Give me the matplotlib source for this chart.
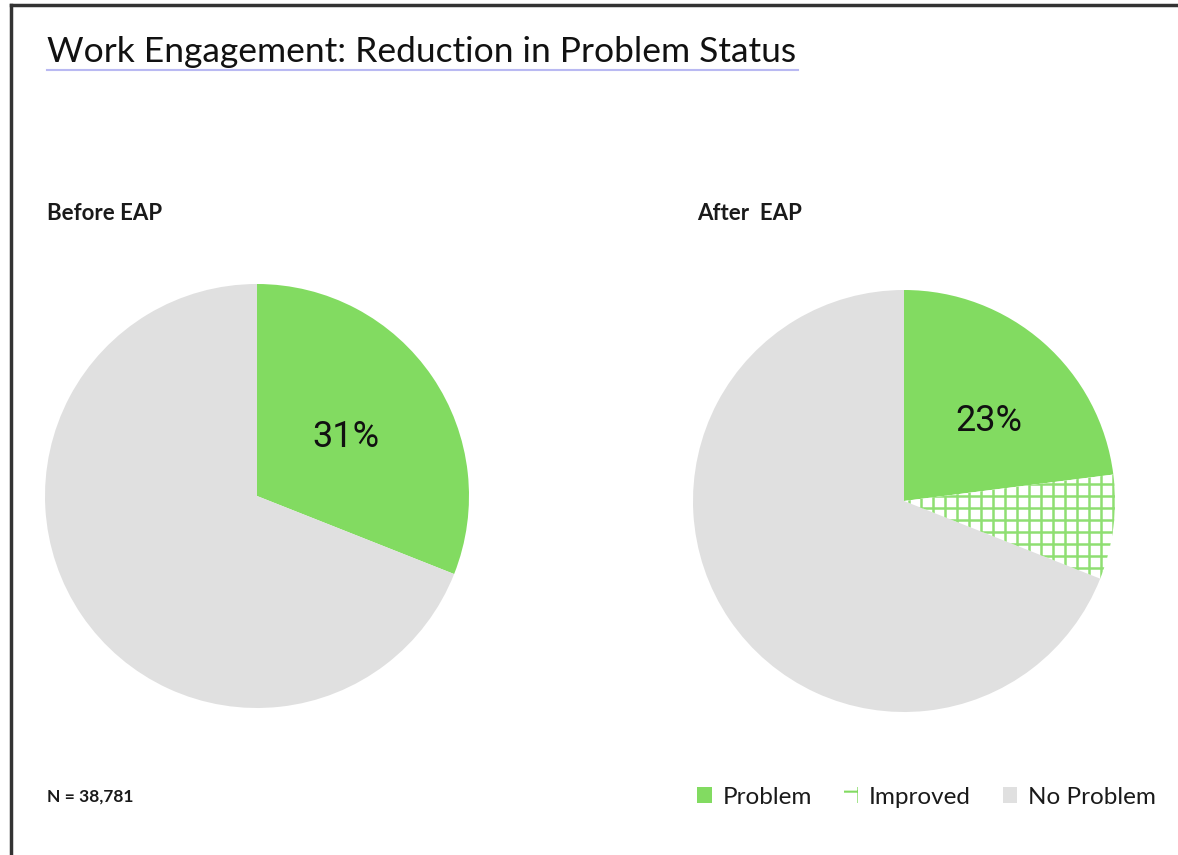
import numpy as np
import matplotlib.pyplot as plt
from matplotlib.patches import Patch
from matplotlib.lines import Line2D

plt.rcParams['font.family'] = ['Lato', 'DejaVu Sans']

title = "Work Engagement: Reduction in Problem Status"
before_labels = ["Problem", "No Problem"]
before_values = [31, 69]
after_labels = ["Problem", "Improved", "No Problem"]
after_values = [23, 8, 69]
sample_note = "N = 38,781"

green = "#82db61"
grey = "#e0e0e0"

W, H = 1178, 855
fig = plt.figure(figsize=(W / 100, H / 100), dpi=100)
fig.patch.set_facecolor("white")


def pie_axes(cx, cy, r):
    # pie centre and radius in pixels
    return fig.add_axes([(cx - r) / W, (H - cy - r) / H, 2 * r / W, 2 * r / H])


# frame (left and top edges only)
fig.add_artist(Line2D([11 / W, 11 / W], [0, 1 - 5 / H], color="#333333", lw=2.5))
fig.add_artist(Line2D([11 / W, 1], [1 - 5 / H, 1 - 5 / H], color="#333333", lw=2.5))

# title + underline
fig.text(47 / W, 1 - 52 / H, title, fontsize=25.5, va="center", ha="left", color="#111111")
fig.add_artist(Line2D([47 / W, 798 / W], [1 - 70 / H, 1 - 70 / H], color="#b9b9f2", lw=1.5))

fig.text(47 / W, 1 - 213 / H, "Before EAP", fontsize=16, fontweight="bold", va="center", ha="left",
         color="#1a1a1a")
fig.text(697 / W, 1 - 213 / H, "After  EAP", fontsize=16, fontweight="bold", va="center", ha="left",
         color="#1a1a1a")
fig.text(47 / W, 1 - 797 / H, sample_note, fontsize=12.5, fontweight="bold", va="center", ha="left",
         color="#1a1a1a")

# before pie
ax1 = pie_axes(257, 496, 212)
w1, _ = ax1.pie(before_values, colors=[green, grey], startangle=90, counterclock=False,
                radius=1, wedgeprops=dict(linewidth=0))
ax1.set_xlim(-1, 1)
ax1.set_ylim(-1, 1)
ax1.axis("off")
ax1.text(0.42, 0.28, f"{before_values[0]}%", fontsize=26, ha="center", va="center",
         family="Roboto", color="#111111")

# after pie
ax2 = pie_axes(904, 501, 211)
w2, _ = ax2.pie(after_values, colors=[green, "white", grey], startangle=90, counterclock=False,
                radius=1, wedgeprops=dict(linewidth=0))
ax2.set_xlim(-1, 1)
ax2.set_ylim(-1, 1)
ax2.axis("off")
ax2.text(0.40, 0.38, f"{after_values[0]}%", fontsize=26, ha="center", va="center",
         family="Roboto", color="#111111")

# grid hatch on the improved wedge, clipped to the wedge
step = 12 / 211
for v in np.arange(-1, 1.0001, step):
    for xs, ys in (([v, v], [-1, 1]), ([-1, 1], [v, v])):
        ln = Line2D(xs, ys, color="#8fdf72", lw=1.8)
        ax2.add_line(ln)
        ln.set_clip_path(w2[1])

# legend
plt.rcParams['hatch.color'] = green
plt.rcParams['hatch.linewidth'] = 1.5
handles = [Patch(facecolor=green, edgecolor="none"),
           Patch(facecolor="white", edgecolor=green, hatch="+", linewidth=0),
           Patch(facecolor=grey, edgecolor="none")]
leg = fig.legend(handles, after_labels, loc="center right", bbox_to_anchor=(1156 / W, 1 - 797 / H),
                 ncol=3, frameon=False, fontsize=17.5, handlelength=0.6, handleheight=0.6,
                 handletextpad=0.45, columnspacing=1.3, borderaxespad=0, borderpad=0)
for t in leg.get_texts():
    t.set_color("#1a1a1a")

fig.savefig("out.png", dpi=100, facecolor="white")
